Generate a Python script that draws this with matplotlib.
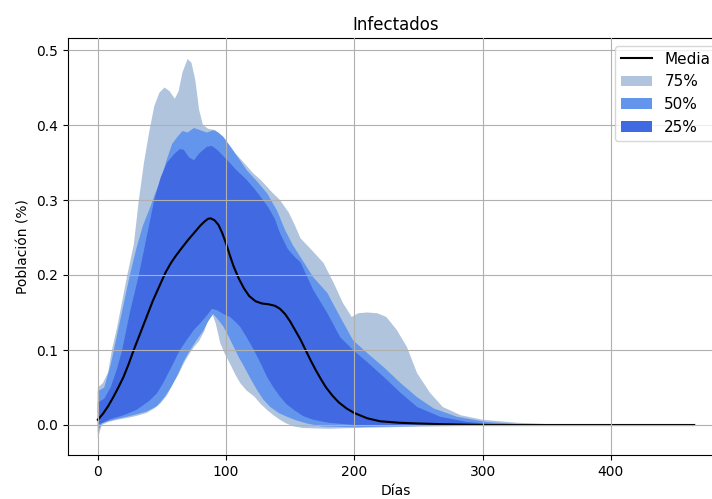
import numpy as np
import matplotlib
matplotlib.use('Agg')
import matplotlib.pyplot as plt

# curva media de infectados
dias_media = [0, 4, 8, 12, 16, 20, 24, 28, 33, 38, 43, 49, 53, 57, 61, 65, 70, 75, 80, 83, 86, 88,
              91, 94, 97, 100, 103, 106, 110, 114, 118, 123, 128, 133, 138, 142, 146, 150, 154, 158,
              162, 166, 170, 174, 178, 183, 188, 194, 200, 210, 220, 235, 250, 270, 300, 465]
media = [0.007, 0.015, 0.025, 0.037, 0.05, 0.064, 0.081, 0.1, 0.122, 0.144, 0.166, 0.189, 0.204,
         0.216, 0.226, 0.235, 0.246, 0.256, 0.266, 0.271, 0.275, 0.2755, 0.273, 0.267, 0.256, 0.242,
         0.226, 0.211, 0.195, 0.182, 0.172, 0.165, 0.162, 0.161, 0.159, 0.155, 0.148, 0.138, 0.126,
         0.114, 0.1, 0.086, 0.073, 0.061, 0.05, 0.039, 0.03, 0.022, 0.016, 0.009, 0.005, 0.003,
         0.002, 0.001, 0.0, 0.0]

# banda 75%
dias_75_sup = [0, 4, 8, 11, 15, 19, 23, 28, 32, 36, 40, 44, 48, 52, 56, 60, 63, 66, 70, 73, 76, 79,
               82, 86, 92, 100, 110, 121, 128, 136, 142, 149, 154, 158, 168, 176, 184, 191, 198, 203,
               210, 218, 225, 233, 241, 249, 259, 269, 283, 300, 327, 353, 400, 465]
sup_75 = [0.05, 0.056, 0.07, 0.1, 0.13, 0.165, 0.2, 0.24, 0.3, 0.35, 0.39, 0.425, 0.443, 0.45, 0.445,
          0.435, 0.445, 0.47, 0.488, 0.483, 0.46, 0.42, 0.4, 0.395, 0.393, 0.375, 0.357, 0.336, 0.325,
          0.31, 0.3, 0.283, 0.265, 0.249, 0.231, 0.216, 0.189, 0.163, 0.144, 0.149, 0.15, 0.149, 0.144,
          0.127, 0.104, 0.069, 0.043, 0.024, 0.013, 0.007, 0.003, 0.001, 0.0, 0.0]
dias_75_inf = [0, 3, 8, 15, 25, 32, 38, 44, 49, 54, 59, 63, 67, 71, 75, 79, 83, 86, 89, 92, 95.5, 99,
               103, 107, 111, 116, 122, 127, 132, 137, 142, 147, 153, 160, 180, 200, 230, 260, 300,
               350, 465]
inf_75 = [-0.018, 0.0, 0.004, 0.007, 0.01, 0.013, 0.016, 0.022, 0.029, 0.04, 0.056, 0.068, 0.082,
          0.094, 0.104, 0.112, 0.125, 0.14, 0.15, 0.135, 0.109, 0.095, 0.082, 0.068, 0.056, 0.046,
          0.038, 0.028, 0.02, 0.013, 0.007, 0.002, -0.002, -0.004, -0.005, -0.004, -0.003, -0.002,
          -0.001, 0.0, 0.0]

# banda 50%
dias_50_sup = [0, 5, 10, 15, 20, 25, 30, 35, 41, 45, 49, 54, 58, 62, 66, 70, 75, 80, 85, 90, 94, 98,
               104, 110, 116, 124, 132, 140, 146, 152, 158, 168, 179, 189, 199, 210, 223, 236, 249,
               262, 280, 303, 330, 400, 465]
sup_50 = [0.045, 0.05, 0.08, 0.12, 0.16, 0.2, 0.235, 0.265, 0.291, 0.31, 0.327, 0.355, 0.375, 0.384,
          0.392, 0.39, 0.396, 0.393, 0.39, 0.393, 0.39, 0.384, 0.37, 0.355, 0.34, 0.325, 0.309, 0.285,
          0.26, 0.24, 0.224, 0.197, 0.176, 0.144, 0.113, 0.096, 0.077, 0.056, 0.037, 0.022, 0.011,
          0.004, 0.001, 0.0, 0.0]
dias_50_inf = [0, 3, 8, 15, 25, 32, 38, 46, 52, 57, 62, 67, 72, 77, 82, 86, 90, 94, 98, 102, 106, 110,
               114, 119, 124, 129, 134.5, 141, 147.5, 155, 163, 175, 200, 230, 260, 300, 465]
inf_50 = [-0.01, 0.002, 0.005, 0.008, 0.012, 0.015, 0.018, 0.025, 0.037, 0.05, 0.066, 0.085, 0.1,
          0.113, 0.125, 0.138, 0.148, 0.14, 0.131, 0.118, 0.104, 0.09, 0.078, 0.062, 0.047, 0.034,
          0.024, 0.016, 0.011, 0.006, 0.002, -0.002, -0.003, -0.002, -0.001, 0.0, 0.0]

# banda 25%
dias_25_sup = [0, 5, 10, 15, 19, 25, 32, 38, 44, 49, 54, 60, 64, 67, 71, 75, 79, 85, 89, 93, 97, 101,
               108, 116, 122, 127, 133, 138, 142, 148, 153, 158, 168, 179, 189, 199, 210, 223, 236,
               249, 267, 288, 310, 350, 465]
sup_25 = [0.03, 0.035, 0.05, 0.075, 0.1, 0.15, 0.2, 0.25, 0.3, 0.33, 0.35, 0.362, 0.368, 0.367,
          0.357, 0.353, 0.362, 0.371, 0.372, 0.367, 0.36, 0.353, 0.34, 0.327, 0.315, 0.304, 0.29,
          0.275, 0.256, 0.235, 0.225, 0.217, 0.18, 0.149, 0.117, 0.1, 0.084, 0.064, 0.043, 0.024,
          0.011, 0.004, 0.001, 0.0, 0.0]
dias_25_inf = [0, 5, 10, 20, 30, 40, 46, 51, 57, 64, 70, 75, 80, 85, 89, 93, 98, 103, 107, 111, 116,
               121.7, 127, 132, 137, 142, 147, 153, 160, 168, 180, 200, 230, 260, 465]
inf_25 = [0.0, 0.004, 0.008, 0.013, 0.02, 0.032, 0.042, 0.056, 0.076, 0.1, 0.115, 0.127, 0.136,
          0.146, 0.155, 0.153, 0.148, 0.144, 0.138, 0.131, 0.117, 0.1, 0.082, 0.064, 0.05, 0.038,
          0.028, 0.02, 0.012, 0.007, 0.003, 0.0, -0.001, 0.0, 0.0]


def banda(ax, xs, ys, xi, yi, color, label):
    # contorno superior de ida y contorno inferior de vuelta
    px = np.concatenate([xs, np.asarray(xi)[::-1]])
    py = np.concatenate([ys, np.asarray(yi)[::-1]])
    return ax.fill(px, py, color=color, lw=0, label=label)[0]


fig = plt.figure(figsize=(7.12, 4.99), dpi=100)
ax = fig.add_axes([68/712, 44/499, (724-68)/712, (455-38)/499])

p75 = banda(ax, dias_75_sup, sup_75, dias_75_inf, inf_75, 'lightsteelblue', '75%')
p50 = banda(ax, dias_50_sup, sup_50, dias_50_inf, inf_50, 'cornflowerblue', '50%')
p25 = banda(ax, dias_25_sup, sup_25, dias_25_inf, inf_25, 'royalblue', '25%')
lm, = ax.plot(dias_media, media, color='k', lw=1.5, label='Media')

ax.set_xlim(-23.25, 488.25)
ax.set_ylim(-0.04, 0.516)
ax.set_xticks([0, 100, 200, 300, 400])
ax.grid(True)
ax.set_axisbelow(False)
ax.set_title('Infectados', fontsize=12)
ax.set_xlabel('Días')
ax.set_ylabel('Población (%)')
ax.legend(handles=[lm, p75, p50, p25], loc='upper right', fontsize=11)

fig.savefig('out.png', dpi=100)
